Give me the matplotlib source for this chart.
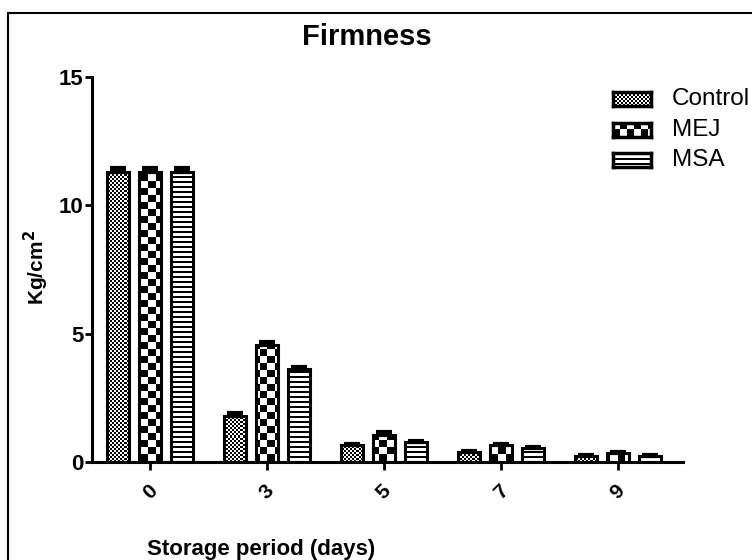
import numpy as np
import matplotlib
matplotlib.use("Agg")
import matplotlib.pyplot as plt
from matplotlib.patches import Rectangle

plt.rcParams["font.family"] = ["Liberation Sans", "DejaVu Sans"]

days = ["0", "3", "5", "7", "9"]
series = ["Control", "MEJ", "MSA"]
control = [11.30, 1.79, 0.68, 0.40, 0.23]
mej = [11.30, 4.57, 1.05, 0.66, 0.36]
msa = [11.30, 3.60, 0.76, 0.56, 0.23]
control_err = [0.15, 0.12, 0.03, 0.03, 0.03]
mej_err = [0.15, 0.11, 0.12, 0.05, 0.04]
msa_err = [0.15, 0.08, 0.04, 0.04, 0.03]

values = [control, mej, msa]
errors = [control_err, mej_err, msa_err]
kinds = ["fine", "coarse", "stripes"]


def pattern(kind, h, w):
    i, j = np.mgrid[0:h, 0:w]
    if kind == "fine":
        return ((i // 2 + j // 2) % 2).astype(float)
    if kind == "coarse":
        return ((i // 7 + j // 7) % 2).astype(float)
    return ((i % 5) < 2).astype(float)


W, H = 752, 560
fig = plt.figure(figsize=(W / 100, H / 100), dpi=100)
ax = fig.add_axes([92 / W, 98 / H, 591 / W, 385.5 / H])
xlim = (-0.496, 4.556)
ax.set_xlim(*xlim)
ax.set_ylim(0, 15)

x = np.arange(len(days))
width, pitch = 0.19, 0.272
for k, (vals, errs, kind) in enumerate(zip(values, errors, kinds)):
    xs = x + (k - 1) * pitch
    bars = ax.bar(xs, vals, width, color="white", edgecolor="none", zorder=1)
    tex = pattern(kind, 386, 591)
    for b in bars:
        im = ax.imshow(tex, cmap="gray_r", vmin=0, vmax=1, extent=(*xlim, 0, 15),
                       aspect="auto", interpolation="nearest", origin="upper", zorder=2)
        im.set_clip_path(b)
    ax.bar(xs, vals, width, facecolor="none", edgecolor="black", lw=2.2, zorder=3)
    ax.errorbar(xs, vals, yerr=[np.zeros(len(errs)), errs], fmt="none", ecolor="black",
                elinewidth=2, capsize=5.5, capthick=3, zorder=4)
ax.set_xlim(*xlim)
ax.set_ylim(0, 15)

for s in ("top", "right"):
    ax.spines[s].set_visible(False)
for s in ("left", "bottom"):
    ax.spines[s].set_linewidth(2.2)
ax.set_yticks([0, 5, 10, 15])
ax.set_xticks(x)
ax.set_xticklabels(days, rotation=45, ha="center", va="top")
ax.tick_params(axis="y", length=5, width=2, labelsize=16, pad=1)
ax.tick_params(axis="x", length=6, width=2, labelsize=15, pad=8)
for t in ax.get_xticklabels() + ax.get_yticklabels():
    t.set_fontweight("bold")

fig.text(36 / W, 1 - 268 / H, r"Kg/cm$^\mathbf{2}$", rotation=90, ha="center", va="center",
         fontsize=15, fontweight="bold")
fig.text(261 / W, 1 - 549 / H, "Storage period (days)", ha="center", va="center",
         fontsize=16, fontweight="bold")
fig.text(367 / W, 1 - 37 / H, "Firmness", ha="center", va="center",
         fontsize=21, fontweight="bold")

# legend drawn by hand so the swatches carry the same textures
for k, (name, kind) in enumerate(zip(series, kinds)):
    yc = 99 + k * 30.5
    sw = fig.add_axes([613 / W, 1 - (yc + 7) / H, 38 / W, 14 / H])
    sw.imshow(pattern(kind, 14, 38), cmap="gray_r", vmin=0, vmax=1, aspect="auto",
              interpolation="nearest")
    sw.set_xticks([]); sw.set_yticks([])
    for sp in sw.spines.values():
        sp.set_linewidth(2.5)
    fig.text(672 / W, 1 - yc / H, name, ha="left", va="center", fontsize=17.5)

fig.patches.append(Rectangle((8 / W, -0.1), 1.2, 1.1 - 13 / H, transform=fig.transFigure,
                             fill=False, lw=1.5, edgecolor="black"))

fig.savefig("out.png", dpi=100)
